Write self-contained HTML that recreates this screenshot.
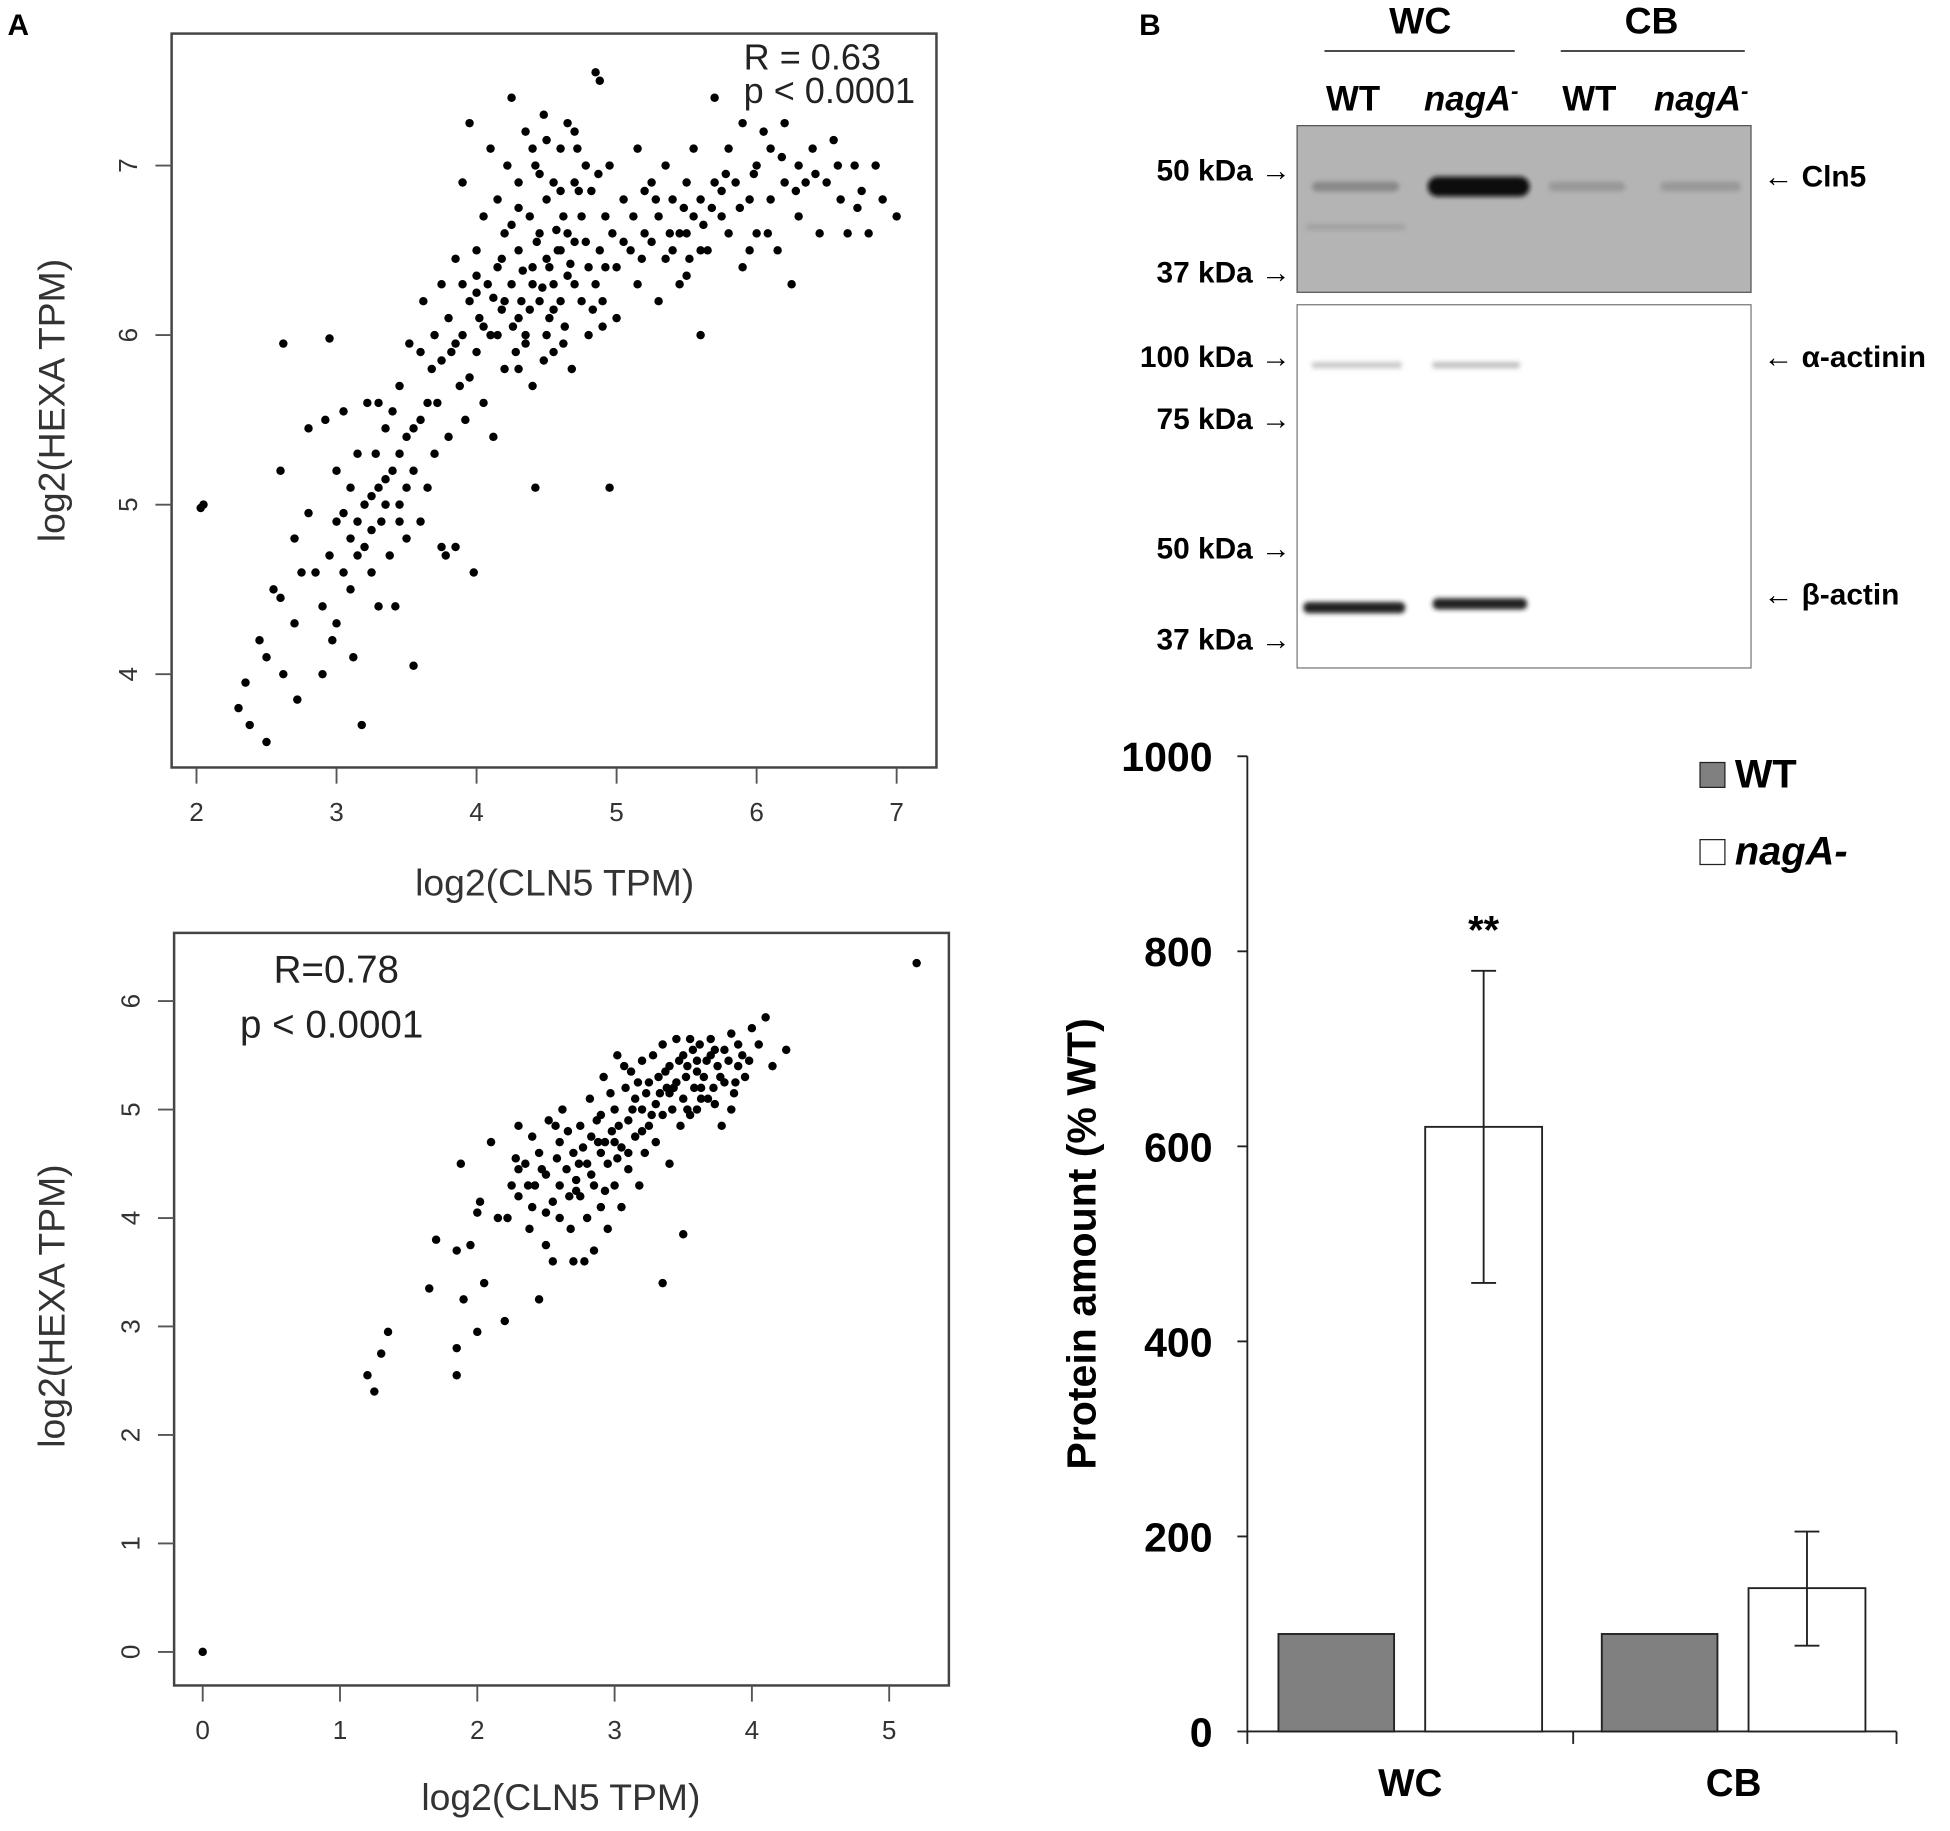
<!DOCTYPE html>
<html><head><meta charset="utf-8"><style>
html,body{margin:0;padding:0;background:#fff;}
svg{display:block;font-family:"Liberation Sans",sans-serif;}
</style></head><body>
<svg id="fig" width="1950" height="1831" viewBox="0 0 1568 1472" preserveAspectRatio="none" xmlns="http://www.w3.org/2000/svg">
<defs>
<filter id="blur2"><feGaussianBlur stdDeviation="2"/></filter>
</defs>
<text x="6" y="28" font-size="24" font-weight="bold">A</text>
<text x="916" y="28" font-size="24" font-weight="bold">B</text>

<g id="top">
<rect x="138" y="27" width="615" height="590" fill="none" stroke="#444" stroke-width="2"/>
<text x="598" y="56" font-size="29" fill="#222">R = 0.63</text>
<text x="598" y="83" font-size="29" fill="#222">p &lt; 0.0001</text>
<text x="446" y="720" font-size="30" fill="#333" text-anchor="middle">log2(CLN5 TPM)</text>
<text transform="translate(52,322) rotate(-90)" font-size="30" fill="#333" text-anchor="middle">log2(HEXA TPM)</text>
</g>
<g id="bot">
<rect x="140" y="750" width="623" height="605" fill="none" stroke="#444" stroke-width="2"/>
<text x="220" y="790" font-size="31" fill="#222">R=0.78</text>
<text x="193" y="834" font-size="31" fill="#222">p &lt; 0.0001</text>
<text x="451" y="1455" font-size="30" fill="#333" text-anchor="middle">log2(CLN5 TPM)</text>
<text transform="translate(52,1050) rotate(-90)" font-size="30" fill="#333" text-anchor="middle">log2(HEXA TPM)</text>
</g>

<g font-weight="bold">
<text x="1142" y="27" font-size="30" text-anchor="middle">WC</text>
<text x="1328" y="27" font-size="30" text-anchor="middle">CB</text>
<line x1="1065" y1="41" x2="1218" y2="41" stroke="#333" stroke-width="1.5"/>
<line x1="1255" y1="41" x2="1403" y2="41" stroke="#333" stroke-width="1.5"/>
<text x="1088" y="89" font-size="28" text-anchor="middle">WT</text>
<text x="1183" y="89" font-size="28" text-anchor="middle" font-style="italic">nagA<tspan font-size="18" dy="-10">-</tspan></text>
<text x="1278" y="89" font-size="28" text-anchor="middle">WT</text>
<text x="1368" y="89" font-size="28" text-anchor="middle" font-style="italic">nagA<tspan font-size="18" dy="-10">-</tspan></text>
<rect x="1043" y="101" width="365" height="134" fill="#b4b4b4" stroke="#555" stroke-width="1"/>
<g filter="url(#blur2)">
<rect x="1055" y="146" width="70" height="8" fill="#888" rx="4"/>
<rect x="1148" y="142" width="82" height="16" fill="#111" rx="8"/>
<rect x="1245" y="146" width="62" height="8" fill="#999" rx="4"/>
<rect x="1335" y="146" width="65" height="8" fill="#999" rx="4"/>
<rect x="1050" y="180" width="80" height="5" fill="#a2a2a2"/>
</g>
<rect x="1043" y="245" width="365" height="292" fill="#fff" stroke="#777" stroke-width="1"/>
<g filter="url(#blur2)">
<rect x="1055" y="291" width="72" height="5" fill="#c8c8c8"/>
<rect x="1152" y="291" width="70" height="5" fill="#c0c0c0"/>
<rect x="1048" y="484" width="82" height="9" fill="#222" rx="4"/>
<rect x="1152" y="481" width="76" height="9" fill="#222" rx="4"/>
</g>
<g font-size="24" text-anchor="end">
<text x="1038" y="145">50 kDa →</text>
<text x="1038" y="227">37 kDa →</text>
<text x="1038" y="295">100 kDa →</text>
<text x="1038" y="345">75 kDa →</text>
<text x="1038" y="449">50 kDa →</text>
<text x="1038" y="522">37 kDa →</text>
</g>
<g font-size="24">
<text x="1418" y="150">← Cln5</text>
<text x="1418" y="295">← α-actinin</text>
<text x="1418" y="486">← β-actin</text>
</g>
</g>

<g id="bar" font-weight="bold">
<text transform="translate(881,1000) rotate(-90)" font-size="33" text-anchor="middle">Protein amount (% WT)</text>
<rect x="1367" y="613" width="20" height="20" fill="#808080" stroke="#222"/>
<text x="1395" y="633" font-size="32">WT</text>
<rect x="1367" y="675" width="20" height="20" fill="#fff" stroke="#222"/>
<text x="1395" y="695" font-size="32" font-style="italic">nagA-</text>
</g>
</svg>
<script>
var NS="http://www.w3.org/2000/svg";
var topPts=[2.05,5.0,2.03,4.98,2.3,3.8,2.35,3.95,2.38,3.7,2.5,3.6,2.45,4.2,2.5,4.1,2.55,4.5,2.6,4.45,2.62,4.0,2.62,5.95,2.6,5.2,2.7,4.3,2.7,4.8,2.72,3.85,2.75,4.6,2.8,4.95,2.8,5.45,2.85,4.6,2.9,4.4,2.9,4.0,2.92,5.5,2.95,5.98,2.95,4.7,2.97,4.2,3.0,4.9,3.0,5.2,3.0,4.3,3.05,5.55,3.05,4.95,3.1,5.1,3.1,4.5,3.12,4.1,3.15,5.3,3.15,4.7,3.18,3.7,3.2,5.0,3.2,4.75,3.22,5.6,3.25,4.6,3.28,5.3,3.3,4.4,3.3,5.1,3.32,4.9,3.35,5.45,3.38,4.7,3.4,5.2,3.42,4.4,3.45,5.7,3.45,5.0,3.5,4.8,3.5,5.4,3.52,5.95,3.55,4.05,3.55,5.2,3.6,5.5,3.6,4.9,3.62,6.2,3.65,5.1,3.68,5.8,3.7,5.3,3.7,6.0,3.72,5.6,3.75,6.3,3.78,4.7,3.8,5.4,3.8,6.1,3.82,5.9,3.85,4.75,3.85,6.45,3.88,5.7,3.9,6.0,3.9,6.9,3.92,5.5,3.95,6.2,3.95,7.25,3.98,4.6,4.0,6.5,4.0,5.9,4.02,6.1,4.05,6.7,4.05,5.6,4.08,6.3,4.1,6.0,4.1,7.1,4.12,5.4,4.15,6.4,4.15,6.8,4.18,6.15,4.2,5.8,4.2,6.6,4.22,7.0,4.25,6.3,4.25,7.4,4.28,5.9,4.3,6.5,4.3,6.9,4.32,6.2,4.35,7.2,4.35,6.0,4.38,6.7,4.4,6.4,4.4,5.7,4.42,7.0,4.42,5.1,4.45,6.2,4.45,6.6,4.48,7.3,4.5,6.0,4.5,6.8,4.52,6.4,4.55,6.9,4.55,5.9,4.58,6.5,4.6,7.1,4.6,6.2,4.62,6.7,4.65,7.25,4.65,6.35,4.68,5.8,4.7,6.9,4.7,6.55,4.72,7.1,4.75,6.2,4.75,6.7,4.78,7.0,4.8,6.4,4.8,6.0,4.82,6.85,4.85,7.55,4.88,7.5,4.88,6.5,4.9,6.2,4.92,6.7,4.95,5.1,4.95,7.0,5.0,6.1,5.0,6.4,5.05,6.8,5.1,6.5,5.15,7.1,5.15,6.3,5.2,6.6,5.25,6.9,5.3,6.2,5.3,6.7,5.35,7.0,5.4,6.5,5.4,6.8,5.45,6.3,5.5,6.9,5.5,6.6,5.55,7.1,5.55,6.7,5.6,6.0,5.6,6.8,5.65,6.5,5.7,7.4,5.7,6.9,5.75,6.7,5.8,7.1,5.8,6.6,5.85,6.9,5.9,7.25,5.9,6.4,5.95,6.8,6.0,7.0,6.0,6.6,6.05,7.2,6.1,6.8,6.15,6.5,6.2,7.25,6.2,6.9,6.25,6.3,6.3,7.0,6.3,6.7,6.35,6.9,6.4,7.1,6.45,6.6,6.5,6.9,6.55,7.15,6.6,6.8,6.65,6.6,6.7,7.0,6.75,6.85,6.8,6.6,6.85,7.0,6.9,6.8,7.0,6.7,3.75,4.75,4.3,6.1,4.2,6.2,4.4,6.3,4.6,6.5,4.0,6.25,3.95,5.75,4.5,6.45,4.7,6.3,4.65,6.6,4.55,6.15,4.35,5.95,4.85,6.3,5.2,6.85,5.45,6.6,5.35,6.45,5.6,6.5,5.25,6.55,5.5,6.35,5.75,6.85,6.1,7.1,5.95,6.5,3.6,5.9,3.4,5.55,3.3,5.6,3.5,5.1,3.35,5.0,3.25,4.85,3.1,4.8,3.05,4.6,3.45,4.9,
4.12,6.22,4.18,6.45,4.26,6.05,4.33,6.38,4.38,6.15,4.43,6.55,4.47,6.28,4.52,6.1,4.57,6.62,4.63,6.05,4.67,6.42,4.73,6.85,4.78,6.55,4.83,6.15,4.87,6.95,4.92,6.4,4.97,6.6,4.3,6.75,4.45,6.95,4.6,6.85,4.5,7.15,4.7,7.2,4.4,7.1,4.25,6.65,4.15,6.0,4.05,6.05,4.0,6.35,3.9,6.3,3.85,5.95,3.75,5.85,3.65,5.6,3.55,5.45,3.45,5.3,3.35,5.15,3.25,5.05,3.15,4.9,5.05,6.55,5.12,6.7,5.18,6.45,5.28,6.8,5.38,6.6,5.48,6.75,5.52,6.45,5.62,6.65,5.68,6.75,5.78,6.95,5.88,6.75,5.98,6.95,6.08,6.6,6.18,7.05,6.28,6.85,6.42,6.95,6.58,7.0,6.72,6.75,4.9,6.05,4.55,6.3,4.62,5.95,4.3,5.8,4.48,5.85];
var botPts=[0,0,5.2,6.35,1.2,2.55,1.25,2.4,1.3,2.75,1.35,2.95,1.65,3.35,1.7,3.8,1.85,2.55,1.85,2.8,1.85,3.7,1.88,4.5,1.9,3.25,1.95,3.75,2.0,2.95,2.0,4.05,2.02,4.15,2.05,3.4,2.1,4.7,2.15,4.0,2.2,3.05,2.22,4.0,2.25,4.3,2.28,4.55,2.3,4.2,2.3,4.85,2.35,4.5,2.38,3.9,2.4,4.75,2.42,4.3,2.45,3.25,2.45,4.6,2.5,3.75,2.5,4.4,2.52,4.9,2.55,3.6,2.55,4.15,2.6,4.7,2.6,4.0,2.62,5.0,2.65,4.45,2.68,3.9,2.7,4.6,2.7,3.6,2.72,4.25,2.75,4.85,2.78,3.6,2.8,4.0,2.8,4.5,2.82,5.1,2.85,4.3,2.85,3.7,2.88,4.7,2.9,4.1,2.9,4.95,2.92,5.3,2.95,4.5,2.95,3.9,2.98,4.8,3.0,5.0,3.0,4.3,3.02,5.5,3.05,4.65,3.05,4.1,3.08,5.2,3.1,4.9,3.1,4.45,3.12,5.35,3.15,4.75,3.15,5.1,3.18,4.3,3.2,5.0,3.2,5.45,3.22,4.6,3.25,5.25,3.25,4.85,3.28,5.5,3.3,5.05,3.3,4.7,3.32,5.3,3.35,5.6,3.35,4.95,3.38,5.2,3.4,4.5,3.4,5.4,3.42,5.0,3.45,5.65,3.45,5.25,3.48,4.85,3.5,5.5,3.5,5.1,3.5,3.85,3.52,5.3,3.55,5.65,3.55,4.95,3.58,5.2,3.6,5.45,3.6,5.0,3.62,5.6,3.65,5.3,3.68,5.1,3.7,5.5,3.7,5.65,3.72,5.2,3.75,5.4,3.78,4.85,3.8,5.55,3.8,5.25,3.85,5.7,3.85,5.0,3.9,5.4,3.9,5.6,3.95,5.3,4.0,5.75,4.05,5.6,4.1,5.85,4.15,5.4,4.25,5.55,3.35,3.4,2.3,4.45,2.6,4.3,2.9,4.6,3.1,4.6,2.75,4.2,3.0,4.7,3.2,4.8,3.4,5.15,3.6,5.35,2.5,4.05,2.4,4.1,
2.58,4.55,2.66,4.8,2.74,4.5,2.83,4.75,2.93,4.25,3.03,4.85,3.13,5.0,3.23,5.15,3.27,4.95,3.37,5.35,3.43,5.2,3.47,5.45,3.53,5.4,3.57,5.55,3.63,5.2,3.67,5.45,3.73,5.55,3.77,5.3,3.83,5.45,3.88,5.25,3.93,5.5,3.98,5.45,3.07,5.4,2.97,5.15,2.87,4.9,2.77,4.65,2.67,4.2,2.57,4.85,2.47,4.45,2.37,4.3,3.17,5.25,3.33,5.15,3.53,5.0,3.63,5.1,3.73,5.05,3.87,5.15,2.93,4.7,3.02,4.55,2.83,4.4,2.72,4.35];
var topXTicks=[2,3,4,5,6,7];
var topYTicks=[4,5,6,7];
var botXTicks=[0,1,2,3,4,5];
var botYTicks=[0,1,2,3,4,5,6];
var barCats=["WC","CB"];
var wtVals=[100,100];
var nagVals=[620,147];
var nagErrLo=[460,88];
var nagErrHi=[780,205];
var barYTicks=[0,200,400,600,800,1000];

function mk(t,a,p){var e=document.createElementNS(NS,t);for(var k in a)e.setAttribute(k,a[k]);p.appendChild(e);return e;}
function scatter(g,pts,xt,yt,sx,sy,bottom,left,name){
  xt.forEach(function(v){var x=sx(v);
    var l=mk('line',{x1:x,x2:x,y1:bottom,y2:bottom+13,stroke:'#555','stroke-width':1.5},g);
    
    
    var t=mk('text',{x:x,y:bottom+43,'font-size':21,fill:'#333','text-anchor':'middle'},g);t.textContent=v;
    
    });
  yt.forEach(function(v){var y=sy(v);
    var l=mk('line',{x1:left-13,x2:left,y1:y,y2:y,stroke:'#555','stroke-width':1.5},g);
    
    
    var t=mk('text',{transform:'translate('+(left-28)+','+y+') rotate(-90)','font-size':21,fill:'#333','text-anchor':'middle'},g);t.textContent=v;
    
    });
  for(var i=0;i<pts.length;i+=2){
    var c=mk('circle',{cx:sx(pts[i]),cy:sy(pts[i+1]),r:3.4,fill:'#000'},g);
    
    
  }
}
scatter(document.getElementById('top'),topPts,topXTicks,topYTicks,
  function(v){return 158+(v-2)*112.6;},function(v){return 542-(v-4)*136.3;},617,138,'top');
scatter(document.getElementById('bot'),botPts,botXTicks,botYTicks,
  function(v){return 163+v*110.4;},function(v){return 1328-v*87.2;},1355,140,'bottom');

(function(){
  var g=document.getElementById('bar');
  var y0=1392,k=0.784;function sy(v){return y0-v*k;}
  var ax=mk('line',{x1:1003,x2:1003,y1:sy(1000),y2:y0,stroke:'#222','stroke-width':1.5},g);
  
  
  var bx=mk('line',{x1:1003,x2:1525,y1:y0,y2:y0,stroke:'#222','stroke-width':1.5},g);
  
  
  [1003,1265,1525].forEach(function(x){mk('line',{x1:x,x2:x,y1:y0,y2:y0+10,stroke:'#222','stroke-width':1.5},g);});
  barYTicks.forEach(function(v){var y=sy(v);
    mk('line',{x1:995,x2:1003,y1:y,y2:y,stroke:'#222','stroke-width':1.5},g);
    var t=mk('text',{x:975,y:y+12,'font-size':33,'text-anchor':'end'},g);t.textContent=v;
    
    });
  barCats.forEach(function(c,i){
    var base=1028+i*260;
    var b1=mk('rect',{x:base,y:sy(wtVals[i]),width:93,height:wtVals[i]*k,fill:'#808080',stroke:'#222','stroke-width':1.5},g);
    
    
    var b2=mk('rect',{x:base+118,y:sy(nagVals[i]),width:94,height:nagVals[i]*k,fill:'#fff',stroke:'#222','stroke-width':1.5},g);
    
    
    var cx=base+165;
    var e=mk('path',{d:'M'+cx+','+sy(nagErrLo[i])+'V'+sy(nagErrHi[i])+'M'+(cx-10)+','+sy(nagErrLo[i])+'H'+(cx+10)+'M'+(cx-10)+','+sy(nagErrHi[i])+'H'+(cx+10),stroke:'#222','stroke-width':1.5,fill:'none'},g);
    
    
    var t=mk('text',{x:base+106,y:1444,'font-size':31,'text-anchor':'middle'},g);t.textContent=c;
    
    
  });
  var s=mk('text',{x:1028+165,y:sy(nagErrHi[0])-22,'font-size':32,'text-anchor':'middle'},g);s.textContent='**';
  
  
})();
</script>
</body></html>
